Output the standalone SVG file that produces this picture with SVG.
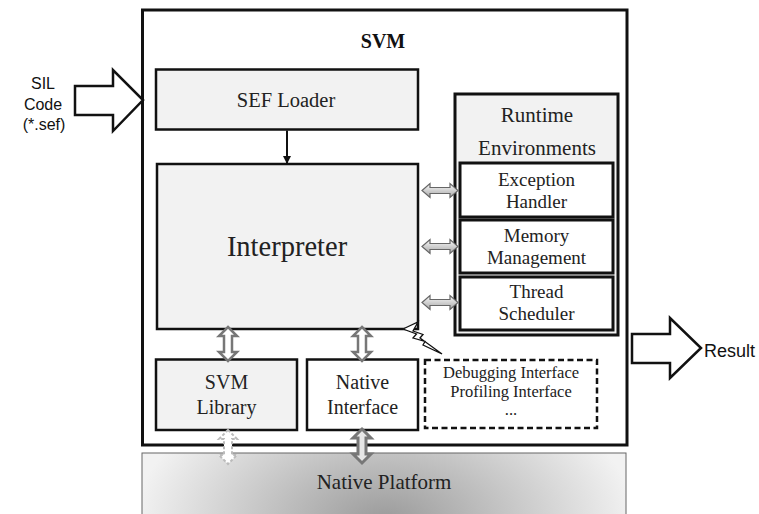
<svg xmlns="http://www.w3.org/2000/svg" width="759" height="514" viewBox="0 0 759 514">
<style>
  .serif{font-family:"Liberation Serif","Times New Roman",serif;fill:#222;text-anchor:middle}
  .sans{font-family:"Liberation Sans",Arial,sans-serif;fill:#111}
  .box{stroke:#111;stroke-width:2.5}
  .grey{fill:#f2f2f2}
  .white{fill:#fff}
  .hollow{fill:#fff;stroke:#111;stroke-width:2.5;stroke-linejoin:miter}
  .harrow{fill:url(#hg);stroke:#666;stroke-width:1.2}
  .varrow{fill:#fff;stroke:#777;stroke-width:2.5}
</style>
<defs>
  <linearGradient id="hg" x1="0" y1="0" x2="0" y2="1">
    <stop offset="0" stop-color="#fafafa"/>
    <stop offset="1" stop-color="#a8a8a8"/>
  </linearGradient>
  <radialGradient id="np" gradientUnits="userSpaceOnUse" cx="385" cy="522" r="250" gradientTransform="translate(385 522) scale(1 0.6) translate(-385 -522)">
    <stop offset="0" stop-color="#9a9a9a"/>
    <stop offset="1" stop-color="#f2f2f2"/>
  </radialGradient>
  <marker id="ah" markerWidth="8" markerHeight="8" refX="7" refY="4" orient="auto" markerUnits="userSpaceOnUse">
    <path d="M0,0 L8,4 L0,8 Z" fill="#111"/>
  </marker>
  <path id="hdbl" d="M -18 0 L -10 -7 L -10 -3 L 10 -3 L 10 -7 L 18 0 L 10 7 L 10 3 L -10 3 L -10 7 Z"/>
  <path id="vdbl" d="M 0 -17 L 9 -8 L 4 -8 L 4 8 L 9 8 L 0 17 L -9 8 L -4 8 L -4 -8 L -9 -8 Z"/>
</defs>

<g id="native-platform">
  <rect x="142" y="453" width="484" height="70" fill="url(#np)" stroke="#666" stroke-width="1"/>
  <text class="serif" x="384" y="489" font-size="21">Native Platform</text>
</g>

<g id="svm">
  <rect x="142.5" y="10" width="484.5" height="435" fill="#fff" stroke="#111" stroke-width="3"/>
  <text class="serif" x="383" y="48" font-size="20" font-weight="bold" style="fill:#111">SVM</text>
</g>

<g id="sef-loader">
  <rect class="box grey" x="156" y="69.5" width="262" height="60"/>
  <text class="serif" x="286" y="107" font-size="20.5">SEF Loader</text>
</g>

<g id="interpreter">
  <rect class="box grey" x="157" y="164" width="261" height="165"/>
  <text class="serif" x="287" y="256" font-size="28.5">Interpreter</text>
</g>

<g id="runtime-environments">
  <rect x="455" y="94" width="163" height="241" fill="#f2f2f2" stroke="#111" stroke-width="3"/>
  <text class="serif" x="537" y="122" font-size="21">Runtime</text>
  <text class="serif" x="537" y="155" font-size="21">Environments</text>
</g>

<g id="exception-handler">
  <rect class="white" x="460" y="163" width="153" height="54" stroke="#111" stroke-width="3"/>
  <text class="serif" x="536.5" y="186" font-size="19">Exception</text>
  <text class="serif" x="536.5" y="208" font-size="19">Handler</text>
</g>

<g id="memory-management">
  <rect class="white" x="460" y="220" width="153" height="53" stroke="#111" stroke-width="3"/>
  <text class="serif" x="536.5" y="242" font-size="19">Memory</text>
  <text class="serif" x="536.5" y="264" font-size="19">Management</text>
</g>

<g id="thread-scheduler">
  <rect class="white" x="460" y="277" width="153" height="53" stroke="#111" stroke-width="3"/>
  <text class="serif" x="536.5" y="298" font-size="19">Thread</text>
  <text class="serif" x="536.5" y="320" font-size="19">Scheduler</text>
</g>

<g id="svm-library">
  <rect class="box grey" x="156" y="359.5" width="141" height="70.5"/>
  <text class="serif" x="226.5" y="389" font-size="20">SVM</text>
  <text class="serif" x="226.5" y="414" font-size="20">Library</text>
</g>

<g id="native-interface">
  <rect class="box white" x="307" y="359.5" width="111" height="70.5"/>
  <text class="serif" x="362.5" y="389" font-size="20">Native</text>
  <text class="serif" x="362.5" y="414" font-size="20">Interface</text>
</g>

<g id="debugging-interface">
  <rect x="425" y="360" width="172" height="68" fill="#fff" stroke="#111" stroke-width="2.5" stroke-dasharray="6 3.5"/>
  <text class="serif" x="511" y="378" font-size="16.5">Debugging Interface</text>
  <text class="serif" x="511" y="397" font-size="16.5">Profiling Interface</text>
  <text class="serif" x="511" y="415" font-size="16.5">...</text>
</g>

<g id="sil-code">
  <text class="sans" font-size="16" text-anchor="middle" x="43" y="89">SIL</text>
  <text class="sans" font-size="16" text-anchor="middle" x="43" y="110">Code</text>
  <text class="sans" font-size="16" text-anchor="middle" x="44" y="130">(*.sef)</text>
</g>

<g id="result">
  <text class="sans" font-size="18" x="704" y="357">Result</text>
</g>

<g id="connectors">
  <polygon class="hollow" points="75,86 113,86 113,70 143,100 113,131 113,115 75,115"/>
  <polygon class="hollow" points="632,334 670,334 670,318 701,348 670,378 670,363 632,363"/>
  <line x1="287" y1="130.5" x2="287" y2="163" stroke="#111" stroke-width="2" marker-end="url(#ah)"/>
  <use href="#hdbl" class="harrow" transform="translate(440 190.5)"/>
  <use href="#hdbl" class="harrow" transform="translate(440 246.5)"/>
  <use href="#hdbl" class="harrow" transform="translate(440 302.5)"/>
  <use href="#vdbl" class="varrow" transform="translate(228 344)"/>
  <use href="#vdbl" class="varrow" transform="translate(362 344)"/>
  <use href="#vdbl" transform="translate(228 447)" fill="#fff" stroke="#bbb" stroke-width="2" stroke-dasharray="3 2"/>
  <use href="#vdbl" transform="translate(362 446)" fill="#e6e6e6" stroke="#777" stroke-width="3"/>
  <polygon points="403,329 418,322 413,331 423,334.5 420,338 442,354 423,345 425,341.5 413,338 416.5,334" fill="#fff" stroke="#111" stroke-width="1.3" stroke-linejoin="miter"/>
</g>
</svg>
